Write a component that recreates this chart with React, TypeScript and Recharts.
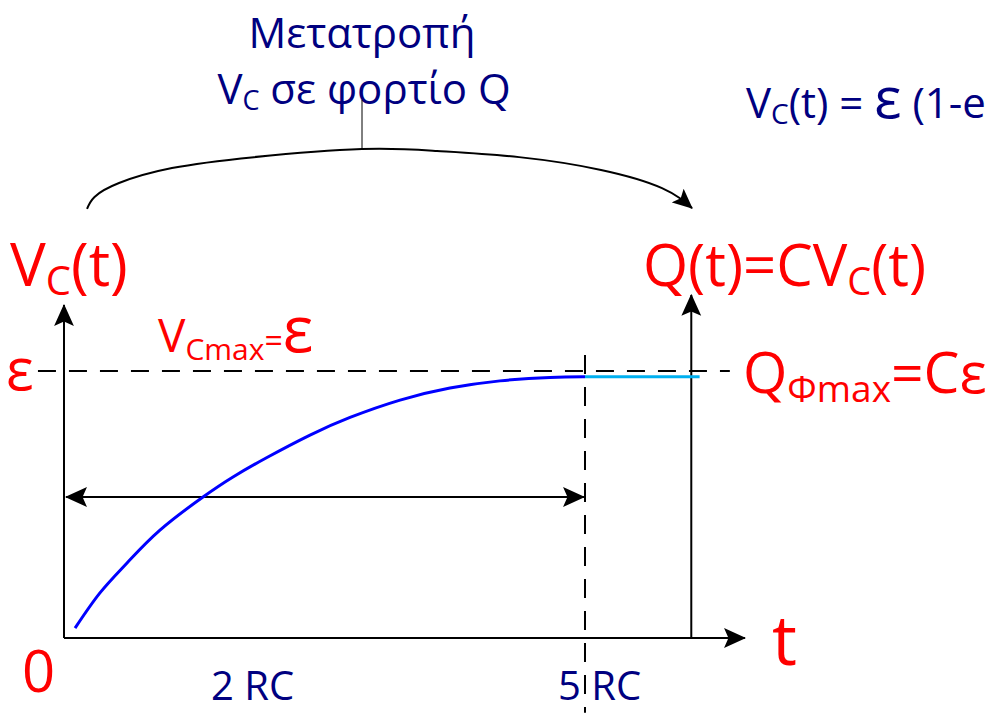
import React from "react";
import { ComposedChart, Line, XAxis, YAxis } from "recharts";

// time in RC, voltage in units of ε
const chargeCurve = [
  { t: 0.106, v: 0.037 },
  { t: 0.345, v: 0.169 },
  { t: 0.605, v: 0.281 },
  { t: 0.921, v: 0.404 },
  { t: 1.334, v: 0.528 },
  { t: 1.622, v: 0.603 },
  { t: 1.948, v: 0.676 },
  { t: 2.361, v: 0.76 },
  { t: 2.745, v: 0.826 },
  { t: 3.225, v: 0.891 },
  { t: 3.704, v: 0.936 },
  { t: 4.184, v: 0.963 },
  { t: 4.664, v: 0.976 },
  { t: 5.0, v: 0.978 },
];
const fullCharge = [
  { t: 5.0, v: 0.978 },
  { t: 6.1, v: 0.978 },
];
const vAxis = [
  { t: 0, v: 0 },
  { t: 0, v: 1.247 },
];
const tAxis = [
  { t: 0, v: 0 },
  { t: 6.535, v: 0 },
];
const qAxis = [
  { t: 6.02, v: 0 },
  { t: 6.02, v: 1.285 },
];
const epsLine = [
  { t: -0.25, v: 1 },
  { t: 6.39, v: 1 },
];
const fiveRcLine = [
  { t: 5, v: 1.06 },
  { t: 5, v: -0.28 },
];
const spanArrow = [
  { t: 0.02, v: 0.528 },
  { t: 4.99, v: 0.528 },
];
const conversionArc = [
  { t: 0.221, v: 1.607 },
  { t: 0.293, v: 1.652 },
  { t: 0.528, v: 1.704 },
  { t: 1.036, v: 1.76 },
  { t: 1.823, v: 1.801 },
  { t: 2.86, v: 1.831 },
  { t: 3.58, v: 1.824 },
  { t: 4.367, v: 1.801 },
  { t: 5.154, v: 1.753 },
  { t: 5.739, v: 1.685 },
  { t: 6.027, v: 1.61 },
];
const arcStem = [
  { t: 2.86, v: 2.015 },
  { t: 2.86, v: 1.831 },
];

const W = 985;
const H = 713;
const NAVY = "#000080";
const RED = "#ff0000";
const FONT = "'Open Sans', 'Noto Sans', sans-serif";

const Sub = ({ children, size, dy }: { children: React.ReactNode; size: number; dy: number }) => (
  <tspan fontSize={size} dy={dy}>
    {children}
  </tspan>
);

export default function App() {
  const line = { dataKey: "v", dot: false, activeDot: false, isAnimationActive: false, type: "linear" as const };
  return (
    <div style={{ position: "absolute", left: 0, top: 0, width: W, height: H, background: "#fff", overflow: "hidden" }}>
      <ComposedChart width={W} height={H} margin={{ top: 0, right: 0, bottom: 0, left: 0 }}>
        <defs>
          <marker
            id="head"
            markerUnits="userSpaceOnUse"
            viewBox="0 0 20 20"
            refX={19}
            refY={10}
            markerWidth={22}
            markerHeight={22}
            orient="auto-start-reverse"
          >
            <path d="M0,1 L20,10 L0,19 L4,10 Z" fill="#000" />
          </marker>
          <marker
            id="headSmall"
            markerUnits="userSpaceOnUse"
            viewBox="0 0 20 20"
            refX={19}
            refY={10}
            markerWidth={20}
            markerHeight={20}
            orient="auto"
          >
            <path d="M0,1 L20,10 L0,19 L4,10 Z" fill="#000" />
          </marker>
        </defs>
        <XAxis type="number" dataKey="t" hide domain={[-0.6142, 8.8388]} allowDataOverflow />
        <YAxis type="number" hide domain={[-0.2809, 2.3895]} allowDataOverflow />

        <Line {...line} data={epsLine} stroke="#000" strokeWidth={2} strokeDasharray="18 13" />
        <Line {...line} data={fiveRcLine} stroke="#000" strokeWidth={2} strokeDasharray="19 13" />
        <Line {...line} data={vAxis} stroke="#000" strokeWidth={2} markerEnd="url(#head)" />
        <Line {...line} data={qAxis} stroke="#000" strokeWidth={2} markerEnd="url(#head)" />
        <Line {...line} data={tAxis} stroke="#000" strokeWidth={2} markerEnd="url(#head)" />
        <Line
          {...line}
          data={spanArrow}
          stroke="#000"
          strokeWidth={1.8}
          markerStart="url(#head)"
          markerEnd="url(#head)"
        />
        <Line {...line} data={chargeCurve} type="natural" stroke="#0000ff" strokeWidth={3} />
        <Line {...line} data={fullCharge} stroke="#00b0f0" strokeWidth={3} />
        <Line {...line} data={conversionArc} type="natural" stroke="#000" strokeWidth={2} markerEnd="url(#headSmall)" />
        <Line {...line} data={arcStem} stroke="#000" strokeWidth={1} />

        <g fontFamily={FONT}>
          <text x={362} y={48} fill={NAVY} fontSize={42} textAnchor="middle">
            Μετατροπή
          </text>
          <text x={364} y={104} fill={NAVY} fontSize={42} textAnchor="middle">
            V<Sub size={27} dy={6}>C</Sub>
            <tspan dy={-6}> σε φορτίο Q</tspan>
          </text>
          <text x={746} y={118} fill={NAVY} fontSize={42}>
            V<Sub size={28} dy={6}>C</Sub>
            <tspan dy={-6}>(t) = </tspan>
            <tspan fontSize={57}>ε</tspan>
            <tspan> (1-e</tspan>
          </text>

          <text x={10} y={286} fill={RED} fontSize={60}>
            V<Sub size={40} dy={9}>C</Sub>
            <tspan dy={-9}>(t)</tspan>
          </text>
          <text x={643} y={286} fill={RED} fontSize={58}>
            Q(t)=CV<Sub size={38} dy={9}>C</Sub>
            <tspan dy={-9}>(t)</tspan>
          </text>
          <text x={158} y={352} fill={RED} fontSize={46}>
            V<Sub size={30} dy={8}>Cmax</Sub>
            <tspan dy={-8} fontSize={32}>=</tspan>
            <tspan fontSize={64}>ε</tspan>
          </text>
          <text x={6} y={390} fill={RED} fontSize={58}>
            ε
          </text>
          <text x={743} y={393} fill={RED} fontSize={57}>
            Q<Sub size={37} dy={9}>Φmax</Sub>
            <tspan dy={-9}>=Cε</tspan>
          </text>
          <text x={22} y={692} fill={RED} fontSize={58}>
            0
          </text>
          <text x={772} y={665} fill={RED} fontSize={70}>
            t
          </text>
          <text x={211} y={700} fill={NAVY} fontSize={40}>
            2 RC
          </text>
          <text x={558} y={700} fill={NAVY} fontSize={40}>
            5 RC
          </text>
        </g>
      </ComposedChart>
    </div>
  );
}
